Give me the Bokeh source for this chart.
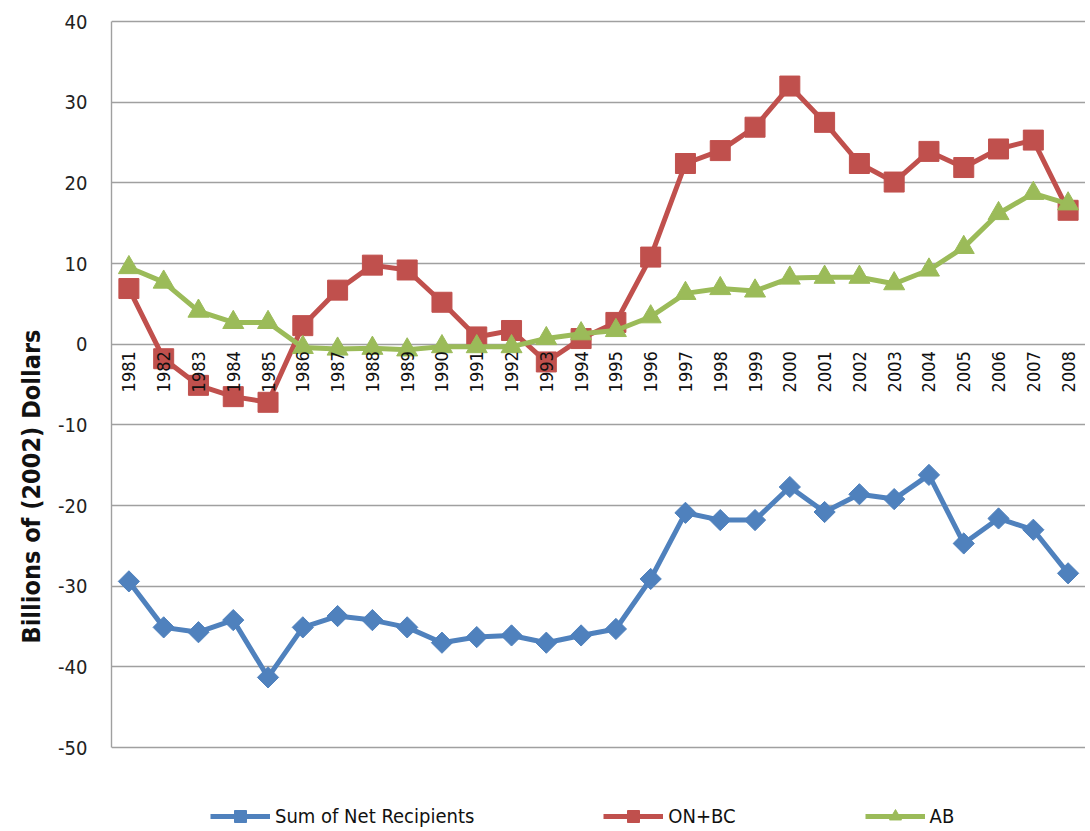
import math
from bokeh.plotting import figure
from bokeh.models import Legend, LegendItem, Title, FixedTicker
from bokeh.core.properties import value
from bokeh.embed import file_html
from bokeh.resources import INLINE

years = [str(y) for y in range(1981, 2009)]

net_recipients = [-29.4, -35.1, -35.7, -34.2, -41.3, -35.1, -33.7, -34.2, -35.1, -37.0,
                  -36.3, -36.1, -37.0, -36.1, -35.3, -29.1, -20.9, -21.8, -21.8, -17.7,
                  -20.8, -18.6, -19.2, -16.2, -24.7, -21.6, -23.0, -28.4]
on_bc = [6.9, -1.8, -5.1, -6.5, -7.2, 2.3, 6.7, 9.8, 9.2, 5.2,
         0.9, 1.7, -2.2, 0.7, 2.7, 10.8, 22.4, 24.0, 26.9, 32.0,
         27.5, 22.4, 20.1, 23.9, 21.9, 24.2, 25.3, 16.6]
ab = [9.5, 7.7, 4.1, 2.7, 2.7, -0.4, -0.6, -0.5, -0.7, -0.3,
      -0.3, -0.3, 0.7, 1.3, 1.7, 3.4, 6.3, 6.9, 6.6, 8.2,
      8.3, 8.3, 7.5, 9.2, 12.0, 16.2, 18.7, 17.4]

y_ticks = [-50, -40, -30, -20, -10, 0, 10, 20, 30, 40]
y_tick_labels = {t: str(t) for t in y_ticks}
zero_line = [0] * len(years)

FONT = "DejaVu Sans Condensed"
BLUE, RED, GREEN = "#4F81BD", "#C0504D", "#9BBB59"
GRID = "#A0A0A0"

p = figure(frame_width=974, frame_height=811, x_range=years, y_range=(-60.28, 40.25),
           output_backend="svg", toolbar_location=None,
           x_axis_location=None, min_border_left=111, min_border_right=0,
           min_border_top=19, min_border_bottom=0)
p.outline_line_color = None
p.xgrid.grid_line_color = None
p.ygrid.grid_line_color = GRID
p.ygrid.grid_line_width = 1.4
p.ygrid.ticker = FixedTicker(ticks=y_ticks)

ya = p.yaxis[0]
ya.ticker = FixedTicker(ticks=y_ticks)
ya.bounds = (-50, 40)
ya.major_label_overrides = y_tick_labels
ya.axis_line_color = GRID
ya.axis_line_width = 1.4
ya.major_tick_line_color = None
ya.minor_tick_line_color = None
ya.major_label_text_font = FONT
ya.major_label_text_font_size = "20px"
ya.major_label_text_color = "#222222"
ya.major_label_standoff = 18

r1l = p.line(years, net_recipients, line_color=BLUE, line_width=5)
r1m = p.scatter(years, net_recipients, marker="square", angle=math.pi / 4, size=15,
                fill_color=BLUE, line_color=BLUE)
r2l = p.line(years, on_bc, line_color=RED, line_width=5)
r2m = p.scatter(years, on_bc, marker="square", size=20, fill_color=RED, line_color=RED)
r3l = p.line(years, ab, line_color=GREEN, line_width=5)
r3m = p.scatter(years, ab, marker="triangle", size=21, fill_color=GREEN, line_color=GREEN)

# category labels sitting on the zero line, drawn above the series
p.text(x=years, y=zero_line, text=years, angle=math.pi / 2, text_align="right",
       text_baseline="middle", y_offset=7, text_font=value(FONT),
       text_font_size=value("18px"), text_color="#111111")

legend = Legend(items=[
    LegendItem(label="Sum of Net Recipients", renderers=[r1l, r1m]),
    LegendItem(label="ON+BC", renderers=[r2l, r2m]),
    LegendItem(label="AB", renderers=[r3l, r3m]),
], orientation="horizontal", location=(99, -1), spacing=129, glyph_width=60,
   glyph_height=30,
   label_text_font=FONT, label_text_font_size="20px", label_text_color="#111111",
   label_standoff=5, border_line_color=None, background_fill_alpha=0,
   padding=0, margin=0)
p.add_layout(legend, "center")

ytitle = Title(text="Billions of (2002) Dollars", align="left", offset=187,
               text_font=FONT, text_font_size="25px", text_font_style="bold",
               text_color="#111111", standoff=20)
p.add_layout(ytitle, "left")

open("out.html", "w").write(file_html(p, INLINE))
